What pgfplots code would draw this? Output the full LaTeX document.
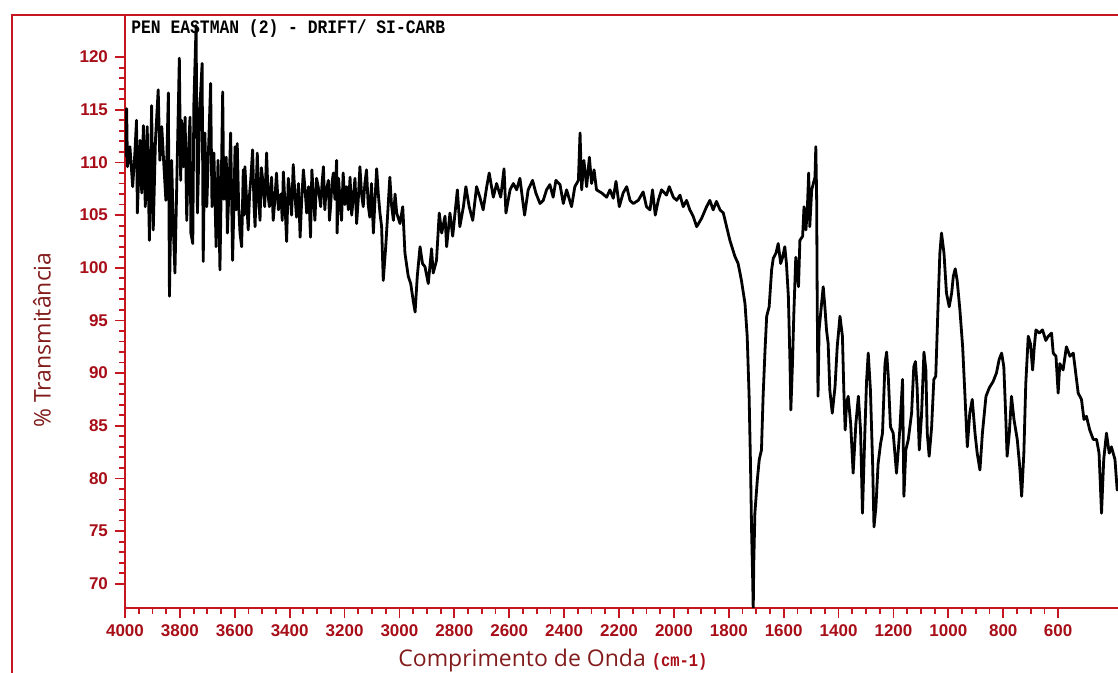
\documentclass[border=0pt]{standalone}
\usepackage{pgfplots}
\pgfplotsset{compat=1.18}
\usepackage{fontspec}
\setmainfont{Open Sans}
\newfontfamily\tickfont{Liberation Sans}
\newfontfamily\plotfont[FakeStretch=0.86]{Liberation Mono}

\definecolor{axisred}{RGB}{198,22,32}
\definecolor{tickred}{RGB}{168,14,24}
\definecolor{labred}{RGB}{130,28,28}

\begin{document}
\begin{tikzpicture}
% page = scanned sheet, 1 px = 0.5pt
\path[use as bounding box] (-62.5pt,-32.5pt) rectangle (496.5pt,304pt);
\begin{axis}[
  scale only axis,
  width=496.5pt, height=296.5pt,
  x dir=reverse,
  xmin=382, xmax=4000,
  ymin=67.7, ymax=124,
  axis lines*=left,
  axis line style={axisred, line width=1.3pt},
  xtick={600,800,...,4000},
  ytick={70,75,...,120},
  minor x tick num=3,
  minor y tick num=4,
  tick align=outside,
  major tick length=5pt,
  minor tick length=3pt,
  every tick/.style={axisred, line width=0.9pt},
  ticklabel style={font=\tickfont\bfseries\fontsize{8.5}{10}\selectfont, text=tickred},
  /pgf/number format/assume math mode=true,
  /pgf/number format/1000 sep={},
  xlabel={\textcolor{labred}{Comprimento de Onda} {\plotfont\bfseries\fontsize{9}{10}\selectfont\textcolor{tickred}{(cm-1)}}},
  xlabel style={font=\fontsize{11.5}{13}\selectfont, at={(axis description cs:0.431,-0.088)}, anchor=center},
  ylabel={\% Transmitância},
  ylabel style={font=\fontsize{11.5}{13}\selectfont, text=labred, at={(axis description cs:-0.0836,0.452)}, anchor=center},
  clip=true,
]
\addplot[black, line width=1.4pt, line join=round] coordinates {
(3998,110.5) (3994,115.1) (3991,109.6) (3982,111.5) (3972,107.7) (3964,110.9)
(3958,114.0) (3955,105.2) (3945,112.1) (3939,107.1) (3933,113.5) (3926,105.8)
(3919,113.4) (3911,102.6) (3903,115.4) (3897,103.6) (3889,112.1) (3879,116.9)
(3873,110.2) (3866,113.4) (3858,109.6) (3851,106.4) (3842,116.6) (3838,97.3)
(3830,110.2) (3824,103.9) (3818,99.5) (3809,110.9) (3802,119.9) (3797,108.3)
(3794,114.0) (3787,109.6) (3781,114.3) (3775,104.5) (3769,110.9) (3763,114.3)
(3760,103.3) (3753,102.3) (3749,115.6) (3741,123.0) (3736,105.2) (3727,115.3)
(3719,119.4) (3715,100.6) (3709,112.8) (3702,105.8) (3696,110.9) (3688,117.5)
(3683,105.8) (3676,110.9) (3668,102.0) (3661,110.2) (3654,99.8) (3644,116.7)
(3640,106.5) (3636,108.6) (3631,110.5) (3627,103.3) (3621,107.5) (3615,112.8)
(3608,100.7) (3603,106.0) (3599,111.5) (3595,105.5) (3591,111.8) (3586,106.0)
(3581,103.3) (3575,102.0) (3569,109.3) (3566,105.0) (3563,109.6) (3557,106.5)
(3551,103.6) (3546,107.0) (3542,108.3) (3535,111.2) (3530,106.0) (3526,103.9)
(3522,107.5) (3518,110.9) (3513,106.5) (3508,104.5) (3503,109.5) (3498,108.3)
(3491,105.8) (3484,110.9) (3479,107.0) (3474,105.8) (3466,108.6) (3460,104.5)
(3454,106.4) (3448,109.0) (3441,105.5) (3432,107.0) (3427,104.5) (3423,109.1)
(3417,106.0) (3411,102.5) (3405,108.5) (3399,107.1) (3393,105.0) (3387,109.8)
(3381,107.0) (3375,104.8) (3368,108.0) (3362,102.9) (3356,106.5) (3350,109.3)
(3344,107.5) (3338,105.2) (3331,107.7) (3324,102.9) (3319,109.3) (3313,106.5)
(3308,104.5) (3302,108.5) (3296,107.7) (3287,105.8) (3282,108.0) (3277,109.6)
(3272,105.5) (3268,107.1) (3259,108.3) (3255,104.5) (3251,105.8) (3246,108.0)
(3241,109.0) (3235,106.5) (3229,110.2) (3227,103.3) (3222,108.5) (3217,106.7)
(3211,104.5) (3205,109.0) (3199,106.0) (3193,107.7) (3186,105.5) (3180,108.6)
(3174,105.0) (3168,106.7) (3162,108.5) (3156,104.2) (3150,106.5) (3144,109.6)
(3138,107.0) (3132,105.8) (3126,108.0) (3120,109.3) (3114,106.0) (3108,104.8)
(3102,108.0) (3095,103.3) (3089,106.5) (3083,109.4) (3077,107.0) (3071,105.2)
(3065,103.9) (3059,98.8) (3050,102.0) (3042,105.5) (3035,108.6) (3029,106.0)
(3022,104.5) (3016,107.0) (3010,105.2) (2998,104.2)
(2988,105.8) (2980,101.4) (2968,99.2) (2959,98.5) (2950,96.9) (2943,95.8)
(2935,99.2) (2925,102.0) (2916,100.4) (2907,100.1) (2895,98.5) (2883,101.8)
(2877,99.5) (2865,100.7) (2855,105.2) (2846,103.3) (2834,104.9) (2828,102.0)
(2816,105.2) (2806,103.0) (2789,107.4) (2780,103.9) (2767,105.8) (2758,107.7)
(2746,105.8) (2733,104.5) (2719,107.7) (2707,106.7) (2695,105.5) (2682,107.7)
(2673,109.0) (2658,106.7) (2646,108.0) (2631,106.7) (2619,109.4) (2612,105.2)
(2597,107.4) (2585,108.0) (2573,107.4) (2561,108.5) (2551,106.4) (2544,105.0)
(2531,107.4) (2515,108.3) (2503,107.1) (2488,106.1) (2476,106.4) (2464,107.4)
(2452,107.9) (2440,106.7) (2430,108.3) (2415,107.9) (2403,106.1) (2391,107.4)
(2373,105.8) (2361,107.7) (2348,108.3) (2342,112.8) (2336,107.4) (2328,110.2)
(2318,107.7) (2308,110.5) (2300,108.0) (2291,109.3) (2282,107.4) (2263,107.1)
(2245,106.7) (2233,107.4) (2221,106.6) (2211,108.2) (2199,105.8) (2185,107.1)
(2172,107.7) (2160,106.4) (2148,106.1) (2130,106.4) (2112,107.2) (2100,105.8)
(2087,105.5) (2078,107.4) (2068,105.0) (2057,106.4) (2045,107.4) (2027,106.9)
(2017,107.7) (2002,106.7) (1990,106.4) (1978,106.9) (1966,105.8) (1954,106.4)
(1942,105.5) (1930,104.9) (1917,103.9) (1899,104.7) (1881,105.8) (1869,106.4)
(1857,105.5) (1845,106.3) (1832,105.5) (1820,105.2) (1808,103.9) (1796,102.6)
(1778,101.1) (1766,100.4) (1754,98.8) (1741,96.6) (1733,93.5) (1726,87.8)
(1721,81.4) (1717,75.1) (1713,70.4) (1711,67.5) (1709,72.0) (1705,76.7)
(1696,79.9) (1689,81.8) (1681,82.7) (1675,87.8) (1668,92.2) (1662,95.4)
(1653,96.3) (1644,99.8) (1638,100.9) (1628,101.4) (1620,102.3) (1611,100.4)
(1604,101.0) (1596,102.0) (1590,100.4) (1583,97.3) (1577,90.9) (1574,86.5)
(1568,90.9) (1563,95.7) (1556,101.0) (1551,99.8) (1546,98.2) (1541,102.6)
(1531,103.0) (1526,105.8) (1519,103.6) (1514,105.5) (1509,109.0) (1505,103.9)
(1498,107.4) (1492,108.0) (1486,108.6) (1483,111.5) (1480,106.7) (1478,97.3)
(1475,87.8) (1471,94.1) (1462,96.6) (1456,98.2) (1450,96.3) (1444,94.1)
(1438,92.8) (1432,88.4) (1423,86.2) (1413,88.7) (1405,92.5) (1395,95.4)
(1386,93.5) (1381,88.4) (1376,84.6) (1371,87.1) (1365,87.8) (1356,85.2)
(1347,80.5) (1337,85.2) (1328,87.8) (1320,84.6) (1313,76.7) (1304,84.6)
(1298,89.3) (1292,91.9) (1284,88.4) (1276,81.4) (1271,75.4) (1264,77.3)
(1256,81.4) (1247,83.3) (1240,84.3) (1231,90.9) (1225,92.0) (1219,89.7)
(1211,84.9) (1201,84.3) (1189,80.5) (1177,84.6) (1167,89.4) (1162,78.3)
(1155,82.7) (1146,83.7) (1134,86.2) (1126,90.6) (1120,91.1) (1114,88.7)
(1106,82.7) (1098,85.9) (1089,92.0) (1082,90.3) (1077,84.3) (1070,82.1)
(1061,84.9) (1053,89.4) (1046,89.7) (1037,96.9) (1031,101.4) (1025,103.3)
(1016,101.4) (1007,97.6) (997,96.3) (988,97.6) (982,99.2) (975,99.9)
(968,98.8) (958,96.0) (948,92.5) (940,88.1) (931,83.0) (922,86.2)
(913,87.5) (903,84.3) (895,82.4) (885,80.8) (876,84.3) (863,87.8)
(851,88.6) (837,89.2) (825,90.0) (815,91.3) (806,91.9) (798,90.6)
(791,85.9) (786,82.1) (778,84.3) (770,87.8) (761,85.6) (749,83.7)
(740,81.1) (733,78.3) (725,82.4) (718,89.0) (709,93.5) (701,92.8)
(693,90.3) (687,92.5) (681,94.1) (669,93.8) (657,94.1) (645,93.1)
(636,93.5) (624,93.8) (618,91.9) (608,91.6) (600,88.1) (594,90.9)
(582,90.3) (570,92.5) (557,91.6) (545,91.9) (536,90.0) (527,88.1)
(515,87.5) (506,85.6) (497,85.9) (485,84.6) (472,83.7) (460,83.7)
(451,82.4) (442,76.7) (434,81.8) (424,84.3) (414,82.4) (406,83.0)
(393,81.8) (385,78.9) (380,80.0)
};
\node[anchor=west, inner sep=0pt, font=\plotfont\bfseries\fontsize{9.5}{10}\selectfont]
  at (rel axis cs:0.006,0.977) {PEN EASTMAN (2) - DRIFT/ SI-CARB};
\end{axis}
% outer frame of the sheet
\draw[axisred, line width=0.9pt] (-56.5pt,-32.5pt) -- (-56.5pt,296.5pt) -- (496.5pt,296.5pt);
\end{tikzpicture}
\end{document}
